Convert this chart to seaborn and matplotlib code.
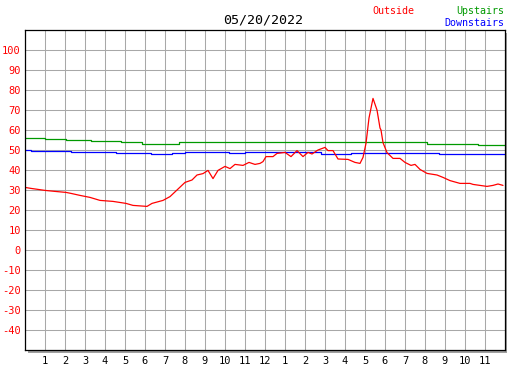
import matplotlib
matplotlib.use("Agg")
import matplotlib.pyplot as plt
from matplotlib.patches import Rectangle
import pandas as pd
import seaborn as sns

# hours since midnight and readings (deg F)
outside_hours = [0.0, 0.3, 1.0, 1.5, 2.05, 2.3, 2.75, 3.25, 3.75, 4.4, 5.05, 5.4, 6.1, 6.35,
                 6.9, 7.25, 7.6, 8.0, 8.35, 8.6, 8.9, 9.15, 9.4, 9.65, 10.0, 10.25, 10.5,
                 10.9, 11.2, 11.5, 11.75, 11.9, 12.05, 12.4, 12.6, 13.0, 13.3, 13.6, 13.9,
                 14.15, 14.35, 14.65, 15.0, 15.15, 15.4, 15.65, 16.15, 16.5, 16.75, 16.9,
                 17.05, 17.2, 17.4, 17.6, 17.75, 17.8, 17.9, 18.1, 18.4, 18.75, 19.0, 19.3,
                 19.5, 19.75, 20.1, 20.6, 20.9, 21.25, 21.75, 22.25, 22.4, 23.1, 23.4,
                 23.65, 23.9]
outside_temp = [31.3, 30.8, 29.8, 29.3, 28.8, 28.3, 27.3, 26.3, 24.8, 24.3, 23.3, 22.3, 21.8,
                23.3, 24.8, 26.7, 30.0, 33.8, 35.0, 37.5, 38.2, 39.8, 35.7, 39.8, 41.8, 40.7,
                42.8, 42.3, 43.8, 42.8, 43.3, 44.2, 46.7, 46.7, 48.3, 48.8, 46.7, 49.7, 46.7,
                48.8, 48.0, 50.0, 51.3, 49.7, 49.7, 45.5, 45.3, 43.8, 43.3, 46.3, 53.3, 66.0,
                75.8, 70.0, 61.0, 60.0, 53.7, 48.7, 45.8, 45.8, 43.8, 42.3, 42.8, 40.3, 38.3,
                37.5, 36.3, 34.7, 33.3, 33.3, 32.8, 31.8, 32.3, 33.0, 32.3]

upstairs_hours = [0.0, 1.0, 2.05, 3.3, 4.8, 5.85, 7.7, 12.6, 12.75, 20.1, 22.65, 24.0]
upstairs_temp = [55.8, 55.3, 54.8, 54.3, 53.8, 53.2, 53.8, 54.1, 53.8, 52.8, 52.3, 52.3]

downstairs_hours = [0.0, 0.3, 2.3, 4.55, 6.3, 7.35, 8.0, 10.2, 11.0, 14.8, 16.3, 20.7, 24.0]
downstairs_temp = [49.8, 49.3, 48.8, 48.3, 47.8, 48.3, 48.8, 48.3, 48.8, 47.8, 48.3, 47.8, 47.8]

hour_labels = [str(h) for h in range(1, 13)] + [str(h) for h in range(1, 12)]
temp_ticks = list(range(-40, 101, 10))

outside = pd.DataFrame({"hour": outside_hours, "temp": outside_temp})
upstairs = pd.DataFrame({"hour": upstairs_hours, "temp": upstairs_temp})
downstairs = pd.DataFrame({"hour": downstairs_hours, "temp": downstairs_temp})

sns.set_style("white")
plt.rcParams["font.family"] = ["DejaVu Sans Mono"]

W, H = 527, 370
fig = plt.figure(figsize=(W / 100, H / 100), dpi=100)
x0, y0, x1, y1 = 25, 30, 505, 350
ax = fig.add_axes([x0 / W, 1 - y1 / H, (x1 - x0) / W, (y1 - y0) / H])
ax.set_zorder(1)

# drop shadow right and below the plot frame
fig.patches.append(Rectangle(((x0 + 2.5) / W, 1 - (y1 + 2.5) / H), (x1 - x0) / W, (y1 - y0) / H,
                             transform=fig.transFigure, facecolor="#a0a0a0",
                             edgecolor="none", zorder=0))

lw = 0.9
sns.lineplot(data=upstairs, x="hour", y="temp", ax=ax, color="#009900", lw=lw,
             drawstyle="steps-post", estimator=None)
sns.lineplot(data=downstairs, x="hour", y="temp", ax=ax, color="#0000ff", lw=lw,
             drawstyle="steps-post", estimator=None)
sns.lineplot(data=outside, x="hour", y="temp", ax=ax, color="#ff0000", lw=lw, estimator=None)

ax.set_xlim(0, 24)
ax.set_ylim(-50, 110)
ax.set_xticks(range(0, 25))
ax.set_xticklabels([""] + hour_labels + [""])
ax.set_yticks(temp_ticks)
ax.set_yticklabels([str(t) for t in temp_ticks])
ax.set_xlabel("")
ax.set_ylabel("")
ax.grid(True, color="#a8a8a8", lw=0.75)
ax.set_axisbelow(True)
ax.set_facecolor("white")
for s in ax.spines.values():
    s.set_color("black")
    s.set_linewidth(0.9)
    s.set_visible(True)
ax.tick_params(axis="both", direction="in", length=4, width=0.9, color="black",
               labelsize=7.5)
ax.tick_params(axis="y", labelcolor="#ff0000", pad=3)
ax.tick_params(axis="x", labelcolor="black", pad=4)

fig.text(263 / W, 1 - 20 / H, "05/20/2022", ha="center", va="center", fontsize=9.6,
         color="black")
fig.text(393 / W, 1 - 11 / H, "Outside", ha="center", va="center", fontsize=7.2,
         color="#ff0000")
fig.text(504 / W, 1 - 11 / H, "Upstairs", ha="right", va="center", fontsize=7.2,
         color="#009900")
fig.text(504 / W, 1 - 23 / H, "Downstairs", ha="right", va="center", fontsize=7.2,
         color="#0000ff")

fig.savefig("out.png", dpi=100)
